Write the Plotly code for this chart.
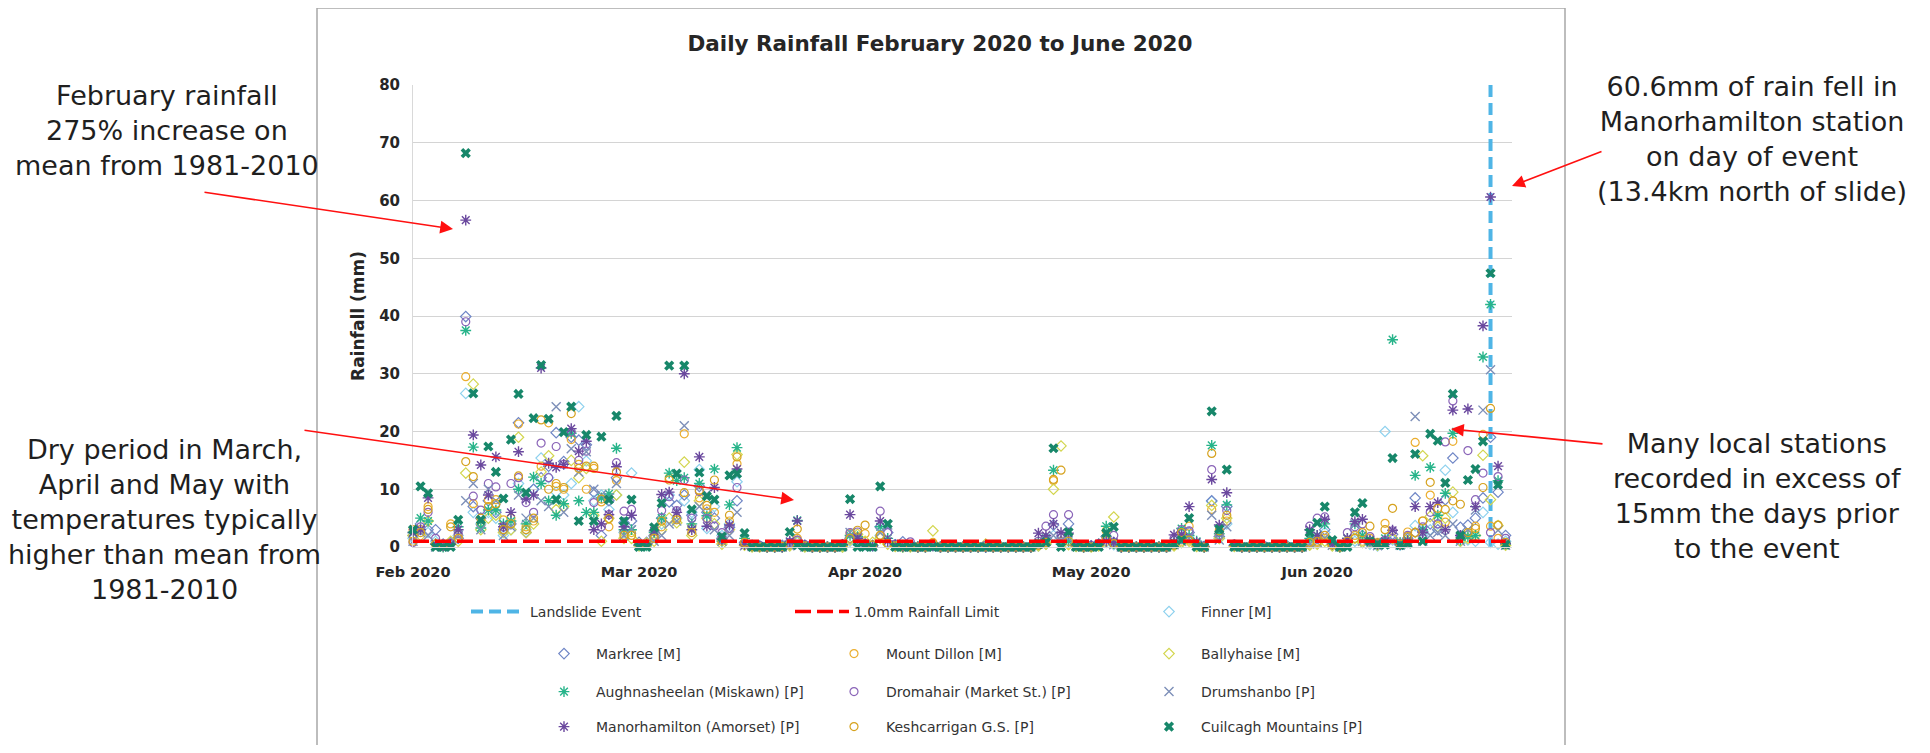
import plotly.graph_objects as go
import pandas as pd

# ---------------- data ----------------
start_date = "2020-02-01"
end_of_axis = "2020-06-25 20:24"
n_days = 146
dates = pd.date_range(start_date, periods=n_days, freq="D")

tick_dates = ["2020-02-01", "2020-03-02", "2020-04-01", "2020-05-01", "2020-05-31"]
tick_labels = ["Feb 2020", "Mar 2020", "Apr 2020", "May 2020", "Jun 2020"]

event_date = "2020-06-23"
event_span = [0, 80]
limit_value = 1.0

finner = [1.5,3.0,2.5,1.0,0.3,0.5,2.0,26.6,6.0,4.0,6.0,5.0,2.0,3.0,11.0,3.0,10.0,15.4,12.0,9.5,9.0,11.0,24.3,14.9,8.0,9.0,6.5,9.0,2.5,
          12.8,0.3,0.5,1.8,4.0,9.0,5.0,8.0,6.0,13.4,3.2,7.0,2.0,4.0,11.3,0.5,0.2,0.0,0.1,0.0,0.0,0.3,0.8,0.2,0.0,0.0,0.0,0.1,0.0,1.0,1.0,
          0.4,0.2,2.0,0.8,0.2,0.3,0.1,0.0,0.0,0.3,0,0,0,0,0,0,0,0,0,0.2,0,0,0,0.2,0.5,2.0,0.8,1.0,0.2,0.0,
          0.1,0.3,0.8,0.4,0,0,0,0,0,0,0,0.3,0.8,1.5,0.3,0.0,7.9,1.5,4.0,0.2,0,0,0,0,0,0,0,0,0,0.4,0.6,
          2.5,0.3,0.0,0.5,1.0,0.8,0.5,0.2,20.0,1.2,0.3,0.8,3.7,2.0,3.0,4.0,13.3,6.0,1.0,1.2,1.0,6.0,0.8,0.5,1.0]
markree = [2.0,4.0,3.0,3.0,0.5,0.8,1.5,39.9,7.0,5.0,8.0,6.0,3.0,4.0,21.5,2.5,10.0,12.0,14.0,19.8,14.8,19.0,18.5,17.7,9.5,2.0,8.0,12.0,4.2,
           4.5,0.8,0.8,2.0,5.0,7.8,7.2,9.0,5.5,10.5,6.0,5.0,1.5,3.4,8.0,0.8,0.3,0.2,0.0,0.0,0.3,0.5,1.0,0.3,0.0,0.2,0.0,0.0,0.4,1.5,1.5,
           0.5,0.3,3.5,2.5,0.4,0.9,0.2,0.0,0.2,0.5,0,0,0.2,0,0,0,0,0,0,0,0,0,0,0.5,1.5,3.8,1.0,4.0,0.3,0.1,
           0.2,0.5,1.8,0.8,0,0,0,0,0.3,0,0,0.6,1.5,2.5,0.5,0.1,8.0,1.8,7.0,0.3,0,0,0,0,0,0,0.2,0,0,1.0,1.5,
           3.0,0.5,0.1,1.0,3.0,2.0,1.0,0.4,1.0,2.2,0.5,1.5,8.5,2.7,4.0,3.0,8.2,15.4,3.4,3.8,5.0,8.5,19.0,9.5,2.0]
mount_dillon = [3.0,3.0,7.0,0.5,0.3,4.0,2.0,29.5,7.5,4.0,8.2,8.2,4.7,5.0,21.3,3.5,4.5,14.0,21.5,10.5,10.0,18.6,14.3,10.0,13.6,7.8,3.5,11.5,2.5,
                2.5,0.5,0.6,2.0,3.5,12.0,5.0,19.6,3.5,8.5,6.6,6.0,1.5,4.5,14.4,0.5,0.1,0.0,0.0,0.0,0.0,0.4,1.5,0.1,0.0,0.0,0.0,0.0,0.2,2.3,1.8,
                2.3,0.4,2.0,0.6,0.2,0.1,0.3,0.0,0.1,0.8,0,0,0,0,0,0,0,0,0,0,0,0,0,0.3,0.8,11.5,1.0,0.5,0.1,0.0,
                0.0,0.4,2.8,0.5,0,0,0,0,0,0,0,0.3,1.0,3.6,0.2,0.0,6.5,2.0,4.5,0.2,0,0,0,0,0,0,0,0,0,0.5,0.8,
                1.5,0.4,0.0,0.8,2.0,1.0,1.5,0.8,4.1,1.5,0.4,2.6,18.1,4.5,9.0,5.0,4.3,18.3,1.5,2.1,3.6,19.5,3.6,1.5,0.4]
ballyhaise = [2.0,2.0,4.5,0.5,0.2,1.0,1.0,12.8,28.2,3.0,5.0,5.5,2.5,3.0,19.0,2.5,4.0,13.0,15.8,6.5,7.0,15.0,12.0,13.6,5.5,1.0,5.0,9.0,1.5,
              1.5,0.2,0.7,1.0,3.0,5.0,4.2,14.7,2.0,8.0,5.0,4.0,0.5,3.0,16.0,0.3,0.0,0.0,0.0,0.0,0.0,0.2,1.0,0.0,0.0,0.0,0.0,0.0,0.0,1.2,2.2,
              1.0,0.8,1.5,0.5,0.1,0.0,0.0,0.0,0.0,2.8,0,0,0,0,0,0,0.5,0,0,0,0,0,0,0.2,0.5,10.0,17.5,0.4,0.1,0.0,
              0.0,0.2,1.0,5.2,0,0,0,0,0,0,0,0.2,0.8,1.0,0.1,0.0,7.2,1.5,5.0,0.1,0,0,0,0,0,0,0,0,0,0.3,0.5,
              1.0,0.2,0.0,0.6,1.5,0.8,0.8,0.3,1.0,1.5,0.5,1.0,2.5,15.8,5.3,3.5,5.0,9.5,1.0,1.5,2.0,15.9,8.2,3.7,0.3]
aughnasheelan = [2.5,5.0,4.5,0.5,0.0,0.5,3.5,37.5,17.3,3.3,6.4,6.4,4.0,4.5,10.0,4.0,12.1,11.0,8.0,5.5,7.5,19.7,8.0,6.0,6.0,8.5,9.2,17.1,3.0,
                 3.0,0.3,0.2,2.5,5.0,12.8,11.5,12.0,4.0,11.0,5.4,13.5,1.0,7.3,17.2,1.5,0.2,0.1,0.0,0.0,0.0,0.8,4.6,0.2,0.0,0.0,0.0,0.0,0.3,2.0,1.8,
                 0.5,0.2,3.5,1.5,0.3,0.0,0.2,0.0,0.0,0.2,0,0,0,0,0,0,0,0,0,0,0,0,0,0.8,1.5,13.3,0.5,1.0,0.2,0.0,
                 0.1,0.5,3.6,0.6,0,0,0,0,0,0,0,0.8,3.2,2.0,1.0,0.0,17.6,2.3,7.3,0.3,0,0,0,0,0,0,0,0,0,1.5,2.0,
                 4.0,0.8,0.0,1.5,4.0,2.0,1.0,0.5,1.5,35.9,0.8,1.2,12.4,3.0,13.8,5.5,9.3,19.7,1.2,1.8,2.0,32.9,42.0,11.5,0.5]
dromahair = [0.8,3.5,6.0,1.5,0.4,0.6,2.3,39.0,8.8,6.4,11.0,10.4,3.5,11.0,12.0,7.7,6.0,18.0,12.0,17.4,14.3,19.9,15.0,16.6,7.7,3.5,5.6,14.6,6.2,
             6.5,0.5,0.3,1.5,6.3,8.7,6.3,11.6,5.0,9.6,4.9,3.6,2.5,3.2,10.3,0.6,0.4,0.3,0.0,0.2,0.0,0.8,1.2,0.4,0.0,0.1,0.0,0.0,0.5,2.5,2.6,
             0.6,0.3,6.2,2.5,0.5,0.2,0.9,0.0,0.1,0.4,0,0,0,0,0,0,0.3,0,0,0,0,0,0,1.0,3.6,5.6,2.0,5.6,0.4,0.2,
             0.3,0.6,1.5,2.0,0,0.2,0,0,0,0,0,1.5,3.0,2.8,0.5,0.2,13.4,2.5,6.3,0.5,0,0,0,0.2,0,0,0,0,0,3.6,5.0,
             5.2,0.6,0.2,2.5,3.5,4.0,1.8,0.6,1.2,2.8,0.6,2.0,2.5,3.5,6.0,4.0,18.2,25.3,2.0,16.7,8.2,12.8,2.5,12.2,1.5]
drumshanbo = [1.0,2.5,2.0,0.0,0.0,0.3,2.0,8.0,11.0,3.0,10.0,8.0,2.0,3.5,9.0,5.0,5.0,8.0,7.0,24.3,6.0,17.0,13.0,16.5,10.0,9.0,8.5,11.0,2.0,
              3.0,0.3,0.2,1.0,2.0,4.0,4.5,21.0,3.0,7.0,9.2,3.0,1.0,2.0,6.0,0.2,0.1,0.0,0.0,0.0,0.0,0.2,0.6,0.0,0.0,0.0,0.0,0.0,0.1,2.5,1.0,
              0.3,0.1,2.5,3.8,0.2,0.0,0.0,0.0,0.0,0.1,0,0,0,0,0,0,0,0,0,0,0,0,0,0.5,1.0,2.0,1.2,1.5,0.1,0.0,
              0.0,0.2,1.0,0.4,0,0,0,0,0,0,0,0.4,1.0,1.5,0.3,0.0,5.5,1.2,3.5,0.1,0,0,0,0,0,0,0,0,0,0.5,0.8,
              1.5,0.3,0.0,0.5,4.0,1.0,0.5,0.2,0.5,1.0,0.3,0.8,22.6,1.0,2.0,2.5,2.0,4.0,1.0,3.0,6.4,23.7,30.7,2.9,0.3]
manorhamilton = [2.5,3.0,8.5,0.5,0.2,0.5,3.0,56.6,19.4,14.2,9.0,15.6,3.5,6.0,16.5,8.3,9.0,31.0,14.5,13.8,14.3,20.5,16.6,18.3,3.0,4.0,5.6,13.9,3.5,
                 5.5,0.4,0.5,2.8,9.1,9.5,6.0,30.0,3.0,15.6,3.6,10.3,1.3,3.8,13.5,0.4,0.2,0.1,0.0,0.0,0.0,1.0,4.5,0.3,0.0,0.0,0.0,0.0,0.4,5.6,1.5,
                 0.5,0.2,4.5,1.0,0.3,0.1,0.2,0.0,0.0,0.2,0,0,0,0,0,0,0,0,0,0,0,0,0,2.4,2.0,4.0,2.5,2.4,0.3,0.0,
                 0.2,0.4,1.0,0.8,0,0,0,0,0,0,0,2.1,2.2,7.0,0.8,0.0,11.7,3.8,9.4,0.3,0,0,0,0,0,0,0,0,0,3.0,2.0,
                 4.8,0.5,0.1,1.5,4.4,4.8,1.2,0.5,1.0,2.9,0.4,1.0,7.0,2.5,7.0,7.7,3.0,23.7,2.0,23.9,7.0,38.3,60.6,14.0,0.6]
keshcarrigan = [1.0,2.5,6.5,0.5,0.3,3.5,1.5,14.8,12.2,5.0,7.0,7.5,3.0,4.0,12.3,3.0,5.0,22.0,10.0,11.0,10.3,23.1,13.6,14.0,14.0,8.3,4.9,13.0,2.0,
                2.0,0.6,0.4,1.5,4.5,11.6,4.7,9.4,2.5,9.8,7.2,11.6,1.0,5.5,15.6,0.8,0.1,0.0,0.0,0.0,0.1,0.5,3.1,0.2,0.0,0.0,0.0,0.0,0.2,1.5,2.9,
                3.8,0.3,2.0,0.6,0.2,0.2,0.1,0.0,0.0,0.6,0,0,0,0,0,0,0,0,0,0,0,0,0,0.3,0.8,11.7,13.3,1.0,0.2,0.0,
                0.0,0.3,1.5,0.6,0,0,0,0,0,0,0,0.3,2.5,1.2,0.4,0.0,16.2,2.8,5.5,0.2,0,0,0,0,0,0,0,0,0,0.8,1.0,
                2.0,0.4,0.0,1.0,1.5,2.5,3.6,0.6,3.0,6.7,0.5,1.8,2.5,4.5,11.2,6.7,6.5,8.0,7.4,2.5,3.2,10.3,24.0,3.8,0.8]
cuilcagh = [3.0,10.5,9.3,0.0,0.0,0.0,4.7,68.2,26.6,4.7,17.4,13.0,8.4,18.6,26.5,9.4,22.3,31.5,22.2,8.2,19.9,24.3,4.5,19.4,4.5,19.1,8.2,22.7,4.5,
            8.2,0.0,0.0,3.4,7.6,31.4,12.7,31.4,6.5,12.9,8.8,8.2,1.8,12.4,12.7,2.4,0.0,0.0,0.0,0.0,0.0,2.6,0.3,0.0,0.0,0.0,0.0,0.0,0.0,8.3,0.0,
            0.0,0.0,10.5,4.0,0.0,0.0,0.0,0.0,0.0,0.0,0,0,0,0,0,0,0,0,0,0,0,0,0,0.5,0.8,17.1,0.0,2.6,0.0,0.0,
            0.0,0.0,2.4,3.5,0,0,0,0,0,0,0,0.5,1.2,5.0,0.0,0.0,23.5,3.1,13.4,0.0,0,0,0,0,0,0,0,0,0,2.5,4.2,
            7.0,1.2,0.0,0.0,6.0,7.6,1.0,0.5,0.4,15.4,0.3,0.6,16.1,1.0,19.6,18.4,11.1,26.5,2.0,11.6,13.5,18.3,47.4,10.8,0.4]

station_names = ["Finner [M]", "Markree [M]", "Mount Dillon [M]", "Ballyhaise [M]",
                 "Aughnasheelan (Miskawn) [P]", "Dromahair (Market St.) [P]", "Drumshanbo [P]",
                 "Manorhamilton (Amorset) [P]", "Keshcarrigan G.S. [P]", "Cuilcagh Mountains [P]"]
station_values = [finner, markree, mount_dillon, ballyhaise, aughnasheelan,
                  dromahair, drumshanbo, manorhamilton, keshcarrigan, cuilcagh]

# ---------------- styles ----------------
styles = [
    dict(symbol="diamond-open", color="#8ED1EE", size=8, width=1.2),
    dict(symbol="diamond-open", color="#6F86C6", size=8, width=1.2),
    dict(symbol="circle-open", color="#EBAE2E", size=8, width=1.2),
    dict(symbol="diamond-open", color="#D3D64E", size=8, width=1.2),
    dict(symbol="asterisk-open", color="#27B48A", size=9, width=1.4),
    dict(symbol="circle-open", color="#8A64B8", size=8, width=1.2),
    dict(symbol="x-thin-open", color="#7D8FB8", size=9, width=1.4),
    dict(symbol="asterisk-open", color="#6A489E", size=9, width=1.4),
    dict(symbol="circle-open", color="#D6A21E", size=8, width=1.2),
    dict(symbol="x", color="#17876A", size=9, width=0),
]

# the page body has an 8px margin, so figure px = page px - 8
OFF = 8
W, H = 1930 - 2 * OFF, 753 - 2 * OFF
PL, PR, PT, PB = 413 - OFF, 1512 - OFF, 85 - OFF, 547 - OFF   # plot area in figure px
pw, ph = PR - PL, PB - PT


def px_x(x):   # page px -> paper
    return (x - OFF - PL) / pw


def px_y(y):
    return (PB - (y - OFF)) / ph


FONT = "DejaVu Sans"
legend_font = dict(family=FONT, size=14, color="#333333")

fig = go.Figure()

IW = 54
# legend slots: left edge of item (page px), row centre y (page px)
slots = {
    "Landslide Event": (466, 612), "1.0mm Rainfall Limit": (790, 612), "Finner [M]": (1137, 612),
    "Markree [M]": (532, 654), "Mount Dillon [M]": (822, 654), "Ballyhaise [M]": (1137, 654),
    "Aughnasheelan (Miskawn) [P]": (532, 692), "Dromahair (Market St.) [P]": (822, 692), "Drumshanbo [P]": (1137, 692),
    "Manorhamilton (Amorset) [P]": (532, 727), "Keshcarrigan G.S. [P]": (822, 727), "Cuilcagh Mountains [P]": (1137, 727),
}
legend_ids = {}
for i, nm in enumerate(slots):
    legend_ids[nm] = "legend" if i == 0 else f"legend{i + 1}"

fig.add_trace(go.Scatter(
    x=[event_date, event_date], y=event_span, mode="lines", name="Landslide Event",
    line=dict(color="#4FB5E6", width=4, dash="12px,6px"),
    legend=legend_ids["Landslide Event"], cliponaxis=False))

for nm, vals, st in zip(station_names, station_values, styles):
    assert len(vals) == n_days, (nm, len(vals))
    fig.add_trace(go.Scatter(
        x=dates, y=vals, mode="markers", name=nm,
        marker=dict(symbol=st["symbol"], size=st["size"], color=st["color"],
                    line=dict(color=st["color"], width=st["width"])),
        legend=legend_ids[nm], cliponaxis=False))

fig.add_trace(go.Scatter(
    x=[dates[0], dates[-1]], y=[limit_value, limit_value], mode="lines",
    name="1.0mm Rainfall Limit", line=dict(color="#FF0000", width=3.5, dash="16px,6px"),
    legend=legend_ids["1.0mm Rainfall Limit"], cliponaxis=False))

layout_legends = {}
for nm, (lx, ty) in slots.items():
    layout_legends[legend_ids[nm]] = dict(
        x=px_x(lx), y=px_y(ty), xanchor="left", yanchor="middle",
        orientation="h", itemwidth=IW, font=legend_font,
        bgcolor="rgba(0,0,0,0)", borderwidth=0)

ann_font = dict(family=FONT, size=27, color="#1F1F1F")
annotations = [
    dict(text="February rainfall<br>275% increase on<br>mean from 1981-2010", x=px_x(167), y=px_y(131)),
    dict(text="Dry period in March,<br>April and May with<br>temperatures typically<br>higher than mean from<br>1981-2010",
         x=px_x(164), y=px_y(519)),
    dict(text="60.6mm of rain fell in<br>Manorhamilton station<br>on day of event<br>(13.4km north of slide)",
         x=px_x(1752), y=px_y(139)),
    dict(text="Many local stations<br>recorded in excess of<br>15mm the days prior<br>to the event",
         x=px_x(1757), y=px_y(496)),
]
ann_list = []
for a in annotations:
    ann_list.append(dict(text=a["text"], x=a["x"], y=a["y"], xref="paper", yref="paper",
                         showarrow=False, font=ann_font, align="center",
                         xanchor="center", yanchor="middle"))

arrows = [((203, 192), (453, 229)), ((303, 430), (794, 500)),
          ((1603, 151), (1512, 186)), ((1604, 444), (1451, 429))]
for (tx, ty), (hx, hy) in arrows:
    ann_list.append(dict(text="", x=px_x(hx), y=px_y(hy), xref="paper", yref="paper",
                         ax=tx - hx, ay=ty - hy, showarrow=True, arrowhead=2,
                         arrowsize=1.6, arrowwidth=1.6, arrowcolor="#FF1010", standoff=0))

fig.update_layout(
    width=W, height=H,
    margin=dict(l=PL, r=W - PR, t=PT, b=H - PB, autoexpand=False),
    paper_bgcolor="white", plot_bgcolor="white",
    title=dict(text="Daily Rainfall February 2020 to June 2020", x=(940 - OFF) / W, y=1 - (43 - OFF) / H,
               xref="container", yref="container", xanchor="center", yanchor="middle",
               font=dict(family=FONT, size=21.5, color="#262626", weight="bold")),
    xaxis=dict(type="date", range=[start_date, end_of_axis], tickvals=tick_dates, ticktext=tick_labels,
               showgrid=False, zeroline=False, showline=True, linecolor="#D9D9D9", linewidth=1,
               ticks="", ticklabelstandoff=12,
               tickfont=dict(family=FONT, size=14.5, color="#262626", weight="bold")),
    yaxis=dict(range=[0, 80], dtick=10, showgrid=True, gridcolor="#D4D4D4", gridwidth=1.3,
               zeroline=False, showline=True, linecolor="#D9D9D9", linewidth=1, ticks="",
               ticklabelstandoff=9,
               tickfont=dict(family=FONT, size=15, color="#262626", weight="bold"),
               title=dict(text="Rainfall (mm)", standoff=10,
                          font=dict(family=FONT, size=17, color="#262626", weight="bold"))),
    annotations=ann_list,
    shapes=[dict(type="rect", xref="paper", yref="paper", x0=px_x(317), x1=px_x(1565),
                 y0=px_y(770), y1=px_y(8), line=dict(color="#A8A8A8", width=1.5),
                 fillcolor="rgba(0,0,0,0)", layer="below")],
    showlegend=True,
    **layout_legends,
)

fig.write_html("out.html")
